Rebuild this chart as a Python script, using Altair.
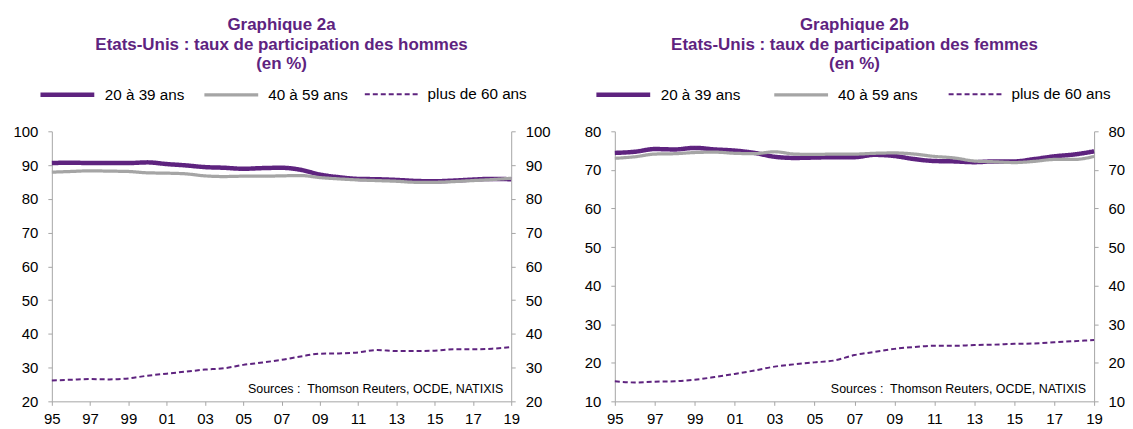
import altair as alt
import pandas as pd

years = list(range(1995, 2020))
tick_years = list(range(1995, 2020, 2))
series_names = ["20 à 39 ans", "40 à 59 ans", "plus de 60 ans"]

men_20_39 = [90.6, 90.7, 90.6, 90.6, 90.6, 90.8, 90.3, 89.9, 89.4, 89.2, 88.9, 89.1, 89.2,
             88.6, 87.2, 86.4, 85.9, 85.8, 85.6, 85.3, 85.2, 85.4, 85.7, 85.9, 85.8]
men_40_59 = [87.9, 88.1, 88.3, 88.2, 88.1, 87.7, 87.6, 87.4, 86.8, 86.6, 86.7, 86.7, 86.8,
             86.9, 86.3, 85.9, 85.6, 85.4, 85.2, 84.9, 84.9, 85.1, 85.4, 85.7, 86.1]
men_60 = [26.2, 26.4, 26.6, 26.5, 26.8, 27.6, 28.2, 28.8, 29.4, 29.8, 30.8, 31.5, 32.3,
          33.3, 34.1, 34.2, 34.5, 35.2, 34.9, 34.9, 35.0, 35.4, 35.4, 35.6, 36.1]

women_20_39 = [74.4, 74.7, 75.4, 75.3, 75.7, 75.3, 75.0, 74.4, 73.4, 73.1, 73.2, 73.3, 73.3,
               73.9, 73.6, 72.8, 72.3, 72.2, 72.0, 72.2, 72.2, 72.8, 73.5, 74.0, 74.8]
women_40_59 = [73.0, 73.4, 74.1, 74.2, 74.5, 74.6, 74.3, 74.2, 74.7, 74.1, 74.0, 74.1, 74.1,
               74.3, 74.4, 74.1, 73.5, 73.1, 72.3, 72.1, 71.9, 72.2, 72.7, 72.7, 73.5]
women_60 = [15.2, 14.9, 15.1, 15.2, 15.6, 16.3, 17.1, 18.0, 19.0, 19.6, 20.1, 20.6, 22.0,
            22.8, 23.6, 24.1, 24.4, 24.4, 24.6, 24.7, 24.9, 25.0, 25.3, 25.6, 25.9]

men_ticks = [20, 30, 40, 50, 60, 70, 80, 90, 100]
women_ticks = [10, 20, 30, 40, 50, 60, 70, 80]

title_men = ["Graphique 2a", "Etats-Unis : taux de participation des hommes", "(en %)"]
title_women = ["Graphique 2b", "Etats-Unis : taux de participation des femmes", "(en %)"]
source_text = "Sources :\u00a0 Thomson Reuters, OCDE, NATIXIS"

PURPLE = "#5E237F"
GREY = "#A5A5A5"
AXIS_GREY = "#A6A6A6"
FONT = "Liberation Sans"
H = 271

colors = [PURPLE, GREY, PURPLE]
widths = [4.5, 2.0, 2.2]
dashes = [[1, 0], [1, 0], [5, 3]]


def axis_y(orient, values):
    return alt.Axis(orient=orient, values=values, title=None, grid=False,
                    domainColor=AXIS_GREY, tickColor=AXIS_GREY, tickSize=4,
                    labelPadding=10, labelFontSize=15, labelFont=FONT,
                    labelColor="#000000", labelFlush=False, labelOverlap=False)


def panel(vals, ydomain, yticks, title_lines, width, legend_x, col_pad):
    rows = []
    for name, serie in zip(series_names, vals):
        for yr, v in zip(years, serie):
            rows.append({"annee": yr, "serie": name, "valeur": v})
    df = pd.DataFrame(rows)

    x = alt.X("annee:Q",
              scale=alt.Scale(domain=[1995, 2019], nice=False, zero=False),
              axis=alt.Axis(values=tick_years, format="d",
                            labelExpr="substring(datum.label, 2)",
                            title=None, grid=False, domainColor=AXIS_GREY,
                            tickColor=AXIS_GREY, tickSize=4, labelPadding=6,
                            labelFontSize=15, labelFont=FONT, labelColor="#000000",
                            labelFlush=False, labelOverlap=False))
    yscale = alt.Scale(domain=ydomain, nice=False, zero=False)

    leg = alt.Legend(orient="none", legendX=legend_x, legendY=-48.5,
                     direction="horizontal", title=None,
                     symbolType="M-1,0H5", symbolSize=324, labelOffset=44,
                     columnPadding=col_pad, labelFontSize=15.3, labelFont=FONT,
                     labelColor="#000000", padding=0)

    lines = alt.Chart(df).mark_line(interpolate="monotone").encode(
        x=x,
        y=alt.Y("valeur:Q", scale=yscale, axis=axis_y("left", yticks)),
        color=alt.Color("serie:N", scale=alt.Scale(domain=series_names, range=colors), legend=leg),
        strokeWidth=alt.StrokeWidth("serie:N", scale=alt.Scale(domain=series_names, range=widths), legend=leg),
        strokeDash=alt.StrokeDash("serie:N", scale=alt.Scale(domain=series_names, range=dashes), legend=leg),
    )

    right_axis = alt.Chart(df).mark_line(strokeOpacity=0).encode(
        x=x,
        y=alt.Y("valeur:Q", scale=yscale, axis=axis_y("right", yticks)),
    )

    src = alt.Chart(pd.DataFrame({"t": [source_text]})).mark_text(
        align="right", baseline="alphabetic", fontSize=12.5, font=FONT, color="#000000"
    ).encode(text="t:N", x=alt.value(width - 8), y=alt.value(H - 8))

    return alt.layer(lines, right_axis, src).resolve_axis(y="independent").properties(
        width=width, height=H,
        title=alt.TitleParams(text=title_lines, anchor="middle", frame="bounds",
                              fontSize=17, font=FONT, fontWeight="bold",
                              color=PURPLE, lineHeight=19.5, offset=10),
    )


left = panel([men_20_39, men_40_59, men_60], [20, 100], men_ticks, title_men, 461, -13.9, 13)
right = panel([women_20_39, women_40_59, women_60], [10, 80], women_ticks, title_women, 481, -21, 27)

chart = alt.hconcat(left, right, spacing=33).resolve_scale(
    y="independent", color="independent", strokeWidth="independent", strokeDash="independent"
).resolve_legend(
    color="independent", strokeWidth="independent", strokeDash="independent"
).properties(
    padding={"left": 4, "top": 7, "right": 0, "bottom": 0}
).configure_view(stroke=None)

chart.save("out.html", embed_options={"renderer": "svg", "actions": False})
